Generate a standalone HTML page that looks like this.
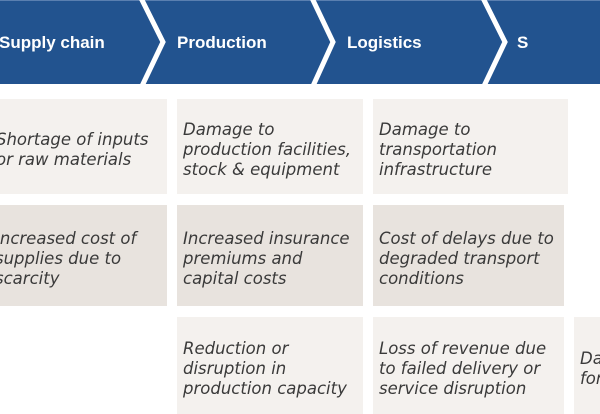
<!DOCTYPE html>
<html><head><style>
body{margin:0;width:600px;height:414px;overflow:hidden;background:#fff;position:relative;font-family:"DejaVu Sans","Liberation Sans",sans-serif}
.h{position:absolute;top:0;left:0;width:600px;height:84px;background:#22538f;border-top:1px solid #5a7fb0;box-sizing:border-box}
.ht{position:absolute;top:33px;color:#fff;font-family:"Liberation Sans",sans-serif;font-weight:bold;font-size:17px}
.b{position:absolute;display:flex;align-items:center;box-sizing:border-box;padding-left:6px;padding-top:6px;font-style:italic;font-size:16.5px;line-height:20px;color:#3a3a3a;white-space:nowrap;overflow:hidden}
.l{background:#f4f1ee}.d{background:#e8e3de}
</style></head><body>
<div class="h"></div>
<svg style="position:absolute;left:0;top:0" width="600" height="84">
<g fill="none" stroke="#fff" stroke-width="5">
<polyline points="141,-2 163,42 142,86"/>
<polyline points="312,-2 333,42 313,86"/>
<polyline points="483,-2 505,42 484,86"/>
</g></svg>
<div class="ht" style="left:-1px">Supply chain</div>
<div class="ht" style="left:177px">Production</div>
<div class="ht" style="left:347px">Logistics</div>
<div class="ht" style="left:517px">S</div>

<div class="b l" style="left:0;top:99px;width:167px;height:95px;padding-left:0"><span style="margin-left:-4px">Shortage of inputs<br>or raw materials</span></div>
<div class="b l" style="left:177px;top:99px;width:186px;height:95px">Damage to<br>production facilities,<br>stock &amp; equipment</div>
<div class="b l" style="left:373px;top:99px;width:195px;height:95px">Damage to<br>transportation<br>infrastructure</div>

<div class="b d" style="left:0;top:205px;width:167px;height:101px;padding-left:0"><span style="margin-left:-5px">Increased cost of<br>supplies due to<br>scarcity</span></div>
<div class="b d" style="left:177px;top:205px;width:186px;height:101px">Increased insurance<br>premiums and<br>capital costs</div>
<div class="b d" style="left:373px;top:205px;width:191px;height:101px">Cost of delays due to<br>degraded transport<br>conditions</div>

<div class="b l" style="left:177px;top:317px;width:186px;height:97px">Reduction or<br>disruption in<br>production capacity</div>
<div class="b l" style="left:373px;top:317px;width:191px;height:97px">Loss of revenue due<br>to failed delivery or<br>service disruption</div>
<div class="b l" style="left:574px;top:317px;width:40px;height:97px">Da<br>for</div>
</body></html>
